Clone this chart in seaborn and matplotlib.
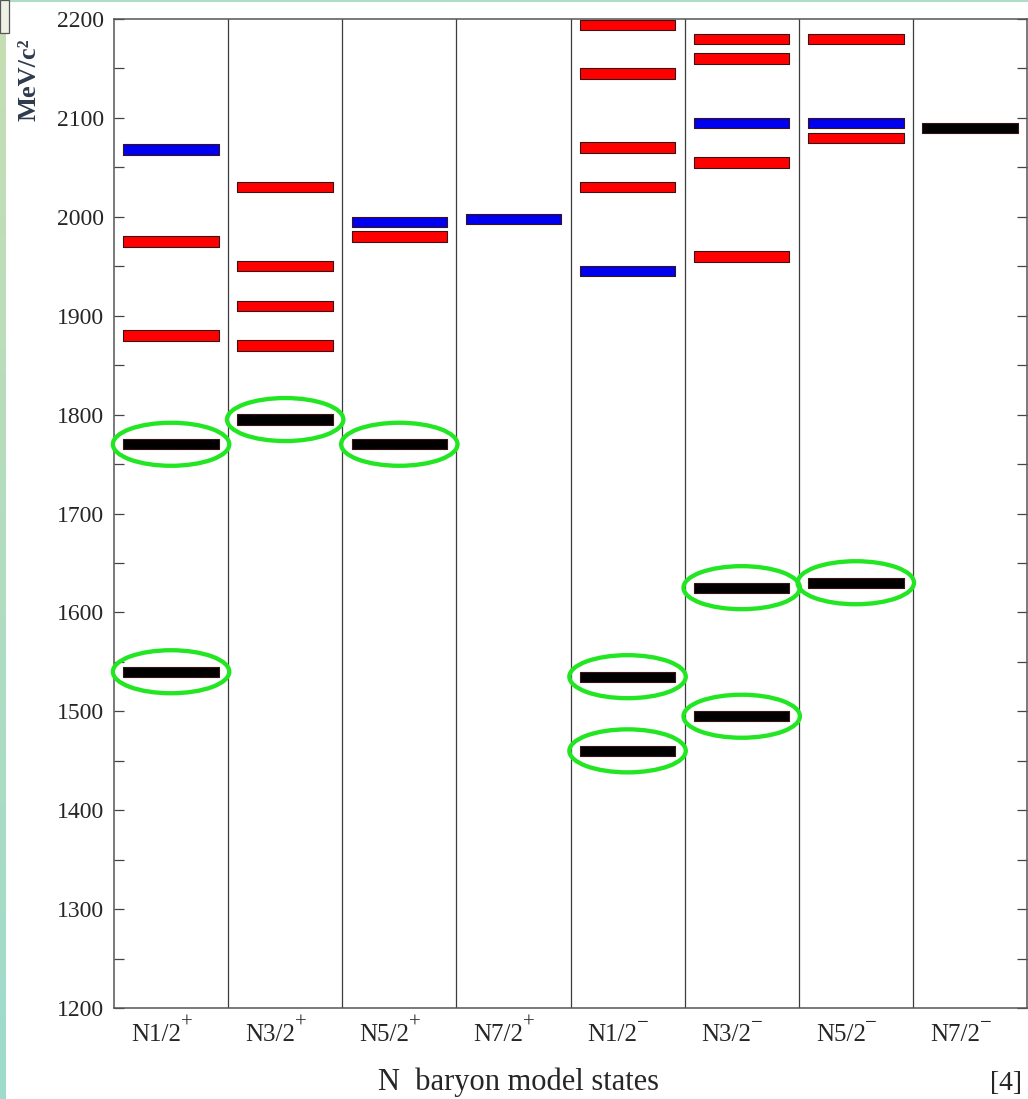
import numpy as np
import pandas as pd
import matplotlib
matplotlib.use("Agg")
import matplotlib.pyplot as plt
from matplotlib.patches import Ellipse, Rectangle
from matplotlib.path import Path
from matplotlib.ticker import MultipleLocator
import seaborn as sns

# Column labels: spin and parity of the nucleon states
state_names = ["N1/2", "N3/2", "N5/2", "N7/2", "N1/2", "N3/2", "N5/2", "N7/2"]
state_parity = ["+", "+", "+", "+", "\u2212", "\u2212", "\u2212", "\u2212"]

# One entry per model level: column index, mass in MeV/c^2, colour class
level_column = [0, 0, 0, 0, 0,
                1, 1, 1, 1, 1,
                2, 2, 2,
                3,
                4, 4, 4, 4, 4, 4, 4,
                5, 5, 5, 5, 5, 5, 5,
                6, 6, 6, 6,
                7]
level_mass = [2068, 1975, 1880, 1770, 1540,
              2030, 1950, 1910, 1870, 1795,
              1995, 1980, 1770,
              1998,
              2194, 2145, 2070, 2030, 1945, 1535, 1460,
              2180, 2160, 2095, 2055, 1960, 1625, 1495,
              2180, 2095, 2080, 1630,
              2090]
level_kind = ["blue", "red", "red", "black", "black",
              "red", "red", "red", "red", "black",
              "blue", "red", "black",
              "blue",
              "red", "red", "red", "red", "blue", "black", "black",
              "red", "red", "blue", "red", "red", "black", "black",
              "red", "blue", "red", "black",
              "black"]
# Levels matched to established resonances get a green ring
level_ringed = [False, False, False, True, True,
                False, False, False, False, True,
                False, False, True,
                False,
                False, False, False, False, False, True, True,
                False, False, False, False, False, True, True,
                False, False, False, True,
                False]

palette = {"red": "#ff0000", "blue": "#0000f0", "black": "#000000"}

sns.set_style("ticks")
plt.rcParams["font.family"] = ["Liberation Serif", "DejaVu Serif"]

W, H = 1028, 1099
fig = plt.figure(figsize=(W / 100, H / 100), dpi=100)
fig.patch.set_facecolor("white")
ax = fig.add_axes([114 / W, 91 / H, 913 / W, 989 / H])

df = pd.DataFrame({"column": level_column, "mass": level_mass,
                   "kind": level_kind})

# flat rectangular marker for each energy level
hh = 0.054
bar_path = Path([(-0.5, -hh), (0.5, -hh), (0.5, hh), (-0.5, hh), (-0.5, -hh)],
                closed=True)
sns.scatterplot(data=df, x="column", y="mass", hue="kind", palette=palette,
                marker=bar_path, s=4720, edgecolor="#3a1414", linewidth=0.8,
                legend=False, ax=ax, zorder=3)

# green rings around identified states
for c, m, r in zip(level_column, level_mass, level_ringed):
    if r:
        ax.add_patch(Ellipse((c, m), width=1.02, height=43.5, fill=False,
                             edgecolor="#22e622", linewidth=3.1, zorder=4,
                             clip_on=False))

# column separators
for xv in np.arange(0.5, 7.5, 1.0):
    ax.axvline(xv, color="#3c3c3c", linewidth=0.9, zorder=1)

ax.set_xlim(-0.5, 7.5)
ax.set_ylim(1200, 2200)
ax.yaxis.set_major_locator(MultipleLocator(100))
ax.yaxis.set_minor_locator(MultipleLocator(50))
ax.tick_params(axis="y", which="both", direction="in", left=True, right=True,
               length=7.2, width=0.9, color="#444444", pad=7,
               labelsize=17)
ax.set_xticks(range(len(state_names)))
ax.set_xticklabels([])
ax.tick_params(axis="x", length=0)
ax.set_xlabel("")
ax.set_ylabel("")
for sp in ax.spines.values():
    sp.set_visible(True)
    sp.set_color("#555555")
    sp.set_linewidth(1.1)

# column labels with raised parity sign
xform = ax.get_xaxis_transform()
for i, (name, par) in enumerate(zip(state_names, state_parity)):
    ax.annotate(name, xy=(i, 0), xycoords=xform, xytext=(-10.8, -23.8),
                textcoords="offset points", ha="center", va="baseline",
                fontsize=18, annotation_clip=False)
    dy = -14.4 if par == "+" else -14.2
    ax.annotate(par, xy=(i, 0), xycoords=xform, xytext=(6.9, dy),
                textcoords="offset points", ha="left", va="baseline",
                fontsize=15, annotation_clip=False)

fig.text(29 / W, 1 - 80 / H, "MeV/c²", rotation=90, ha="center", va="center",
         fontsize=19, fontweight="bold", color="#2e3b4e")
fig.text(519 / W, 1 - 1090 / H, "N  baryon model states", ha="center",
         va="baseline", fontsize=22)
fig.text(1022 / W, 1 - 1090 / H, "[4]", ha="right", va="baseline",
         fontsize=20)

# slide border: gradient strip on the left, thin line at the top
strip = fig.add_axes([0, 0, 6 / W, 1])
grad = np.linspace(0, 1, 256)[:, None]
top_c = np.array([0.78, 0.87, 0.70])
bot_c = np.array([0.62, 0.86, 0.80])
img = (top_c[None, None, :] * (1 - grad[:, :, None]) +
       bot_c[None, None, :] * grad[:, :, None])
strip.imshow(img, aspect="auto", extent=[0, 1, 0, 1])
strip.set_axis_off()
fig.add_artist(Rectangle((0, 1 - 2 / H), 1, 2 / H, transform=fig.transFigure,
                         facecolor="#aedcc6", edgecolor="none"))
fig.add_artist(Rectangle((0, 1 - 33 / H), 9 / W, 33 / H,
                         transform=fig.transFigure, facecolor="#eef1e4",
                         edgecolor="#555555", linewidth=0.9, zorder=5))

fig.savefig("out.png", dpi=100)
